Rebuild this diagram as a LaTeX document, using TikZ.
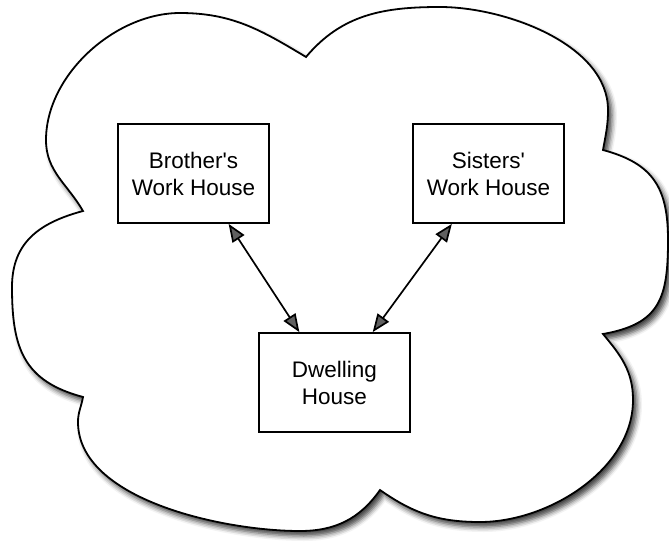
\documentclass[tikz,border=0pt]{standalone}
\usepackage{fontspec}
\newfontfamily\labelfont{Liberation Sans}
\usetikzlibrary{arrows.meta,calc,shadows.blur}
\begin{document}
\begin{tikzpicture}[x=1pt,y=1pt,
  house/.style={draw, line width=1.8pt, fill=white, minimum width=151pt, minimum height=99pt,
    align=center, inner sep=0pt, font=\labelfont\fontsize{22.5}{27}\selectfont},
  link/.style={line width=1.7pt, {Triangle[length=18pt,width=14pt]}-{Triangle[length=18pt,width=14pt]}},
  cloudshape/.style={draw, line width=1.8pt, fill=white,
    blur shadow={shadow xshift=4pt, shadow yshift=-5pt, shadow blur radius=5pt, shadow opacity=75}}]
\useasboundingbox (0,0) rectangle (669,542);
\path[cloudshape]
  (83,331) to[out=120,in=-90] (46,402)
  to[out=90,in=180,looseness=0.9] (180,529)
  to[out=0,in=149] (306,485)
  to[out=50,in=180] (440,535)
  to[out=0,in=90,looseness=0.85] (608,432)
  to[out=-90,in=80] (603,392)
  to[out=-15,in=90,looseness=1.2] (668,302)
  to[out=-90,in=10,looseness=1.3] (603,208)
  to[out=-50,in=90] (633,142)
  to[out=-90,in=0,looseness=0.9] (480,20)
  to[out=180,in=-35] (380,52)
  to[out=-125,in=0] (300,11)
  to[out=180,in=-90,looseness=0.8] (78,120)
  to[out=90,in=-100] (83,145)
  to[out=165,in=-90,looseness=1.2] (12,255)
  to[out=90,in=195,looseness=1.1] (83,331)
  -- cycle;
\node[house] (bro) at (193.5,368.5) {Brother's\\Work House};
\node[house] (sis) at (488.5,368.5) {Sisters'\\Work House};
\node[house] (dwe) at (334.5,159.5) {Dwelling\\House};
\draw[link] ($(bro.south west)!0.73!(bro.south east)$) -- ($(dwe.north west)!0.27!(dwe.north east)$);
\draw[link] ($(sis.south west)!0.26!(sis.south east)$) -- ($(dwe.north west)!0.75!(dwe.north east)$);
\end{tikzpicture}
\end{document}
